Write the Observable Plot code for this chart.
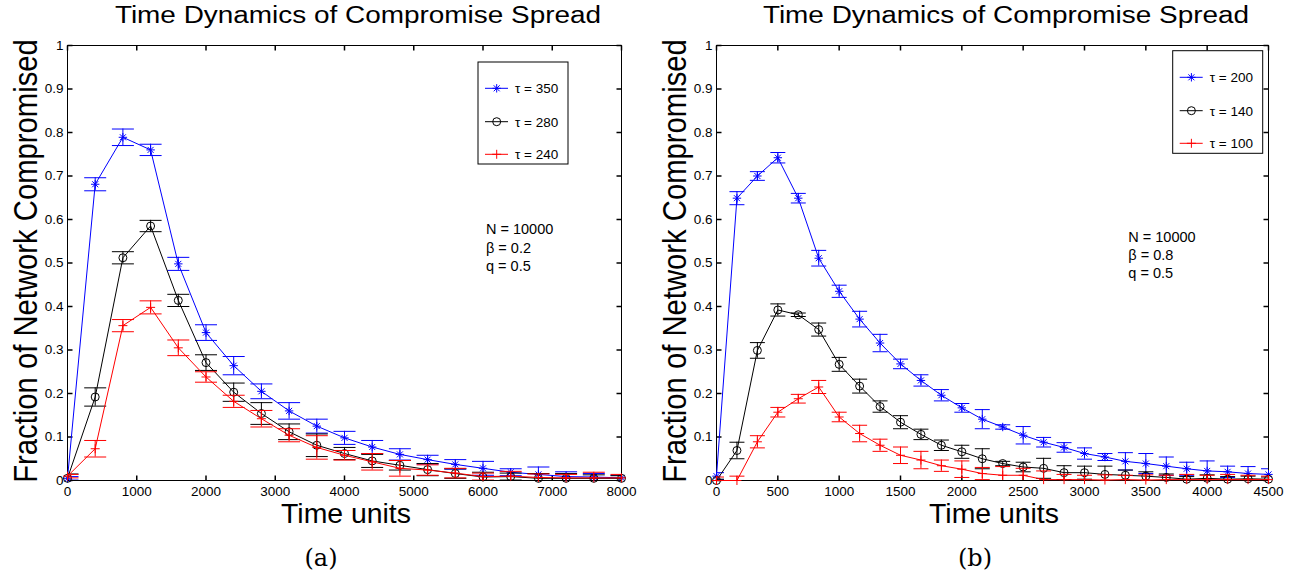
<!DOCTYPE html>
<html><head><meta charset="utf-8">
<script src="https://cdn.jsdelivr.net/npm/d3@7"></script>
<script src="https://cdn.jsdelivr.net/npm/@observablehq/plot@0.6"></script>
<style>
html,body{margin:0;padding:0;background:#fff;}
#wrap{display:flex;width:1298px;height:579px;overflow:hidden;background:#fff;}
#wrap svg{display:block;flex:none;}
</style></head><body><div id="wrap"></div>
<script>
// ---------- Panel (a) data ----------
const timeA = [0,400,800,1200,1600,2000,2400,2800,3200,3600,4000,4400,4800,5200,5600,6000,6400,6800,7200,7600,8000];
const tau350 = [0.005,0.681,0.789,0.760,0.498,0.340,0.264,0.205,0.160,0.125,0.098,0.077,0.060,0.048,0.037,0.028,0.019,0.014,0.009,0.008,0.006];
const tau350Err = [0.004,0.015,0.019,0.013,0.015,0.018,0.021,0.017,0.019,0.016,0.015,0.015,0.013,0.010,0.011,0.016,0.008,0.017,0.011,0.008,0.006];
const tau280 = [0.005,0.192,0.512,0.585,0.414,0.271,0.203,0.154,0.112,0.081,0.062,0.045,0.035,0.025,0.016,0.008,0.009,0.005,0.005,0.005,0.005];
const tau280Err = [0.010,0.021,0.014,0.013,0.014,0.018,0.021,0.025,0.018,0.026,0.014,0.015,0.011,0.014,0.011,0.011,0.008,0.011,0.011,0.008,0.006];
const tau240 = [0.010,0.073,0.356,0.398,0.305,0.238,0.182,0.142,0.104,0.076,0.058,0.043,0.028,0.024,0.017,0.009,0.010,0.007,0.006,0.006,0.006];
const tau240Err = [0.004,0.019,0.014,0.015,0.018,0.012,0.014,0.019,0.015,0.027,0.011,0.019,0.018,0.012,0.011,0.008,0.011,0.008,0.008,0.013,0.008];
const xTicksA = [0,1000,2000,3000,4000,5000,6000,7000,8000];
const xTickLabelsA = ["0","1000","2000","3000","4000","5000","6000","7000","8000"];
const legendA = ["\u03c4 = 350","\u03c4 = 280","\u03c4 = 240"];
const notesA = ["N = 10000","\u03b2 = 0.2","q = 0.5"];

// ---------- Panel (b) data ----------
const timeB = [0,166.7,333.3,500,666.7,833.3,1000,1166.7,1333.3,1500,1666.7,1833.3,2000,2166.7,2333.3,2500,2666.7,2833.3,3000,3166.7,3333.3,3500,3666.7,3833.3,4000,4166.7,4333.3,4500];
const tau200 = [0.010,0.649,0.700,0.742,0.649,0.511,0.435,0.371,0.316,0.268,0.230,0.196,0.167,0.141,0.123,0.104,0.088,0.076,0.062,0.054,0.044,0.039,0.033,0.027,0.022,0.020,0.016,0.014];
const tau200Err = [0.008,0.015,0.010,0.012,0.011,0.018,0.014,0.018,0.020,0.011,0.013,0.013,0.010,0.022,0.005,0.020,0.011,0.011,0.013,0.008,0.020,0.023,0.021,0.015,0.023,0.013,0.016,0.013];
const tau140 = [0.000,0.069,0.299,0.392,0.381,0.347,0.267,0.217,0.170,0.134,0.106,0.081,0.066,0.050,0.039,0.031,0.028,0.018,0.018,0.014,0.012,0.010,0.007,0.003,0.005,0.003,0.004,0.003];
const tau140Err = [0.003,0.019,0.018,0.014,0.004,0.015,0.016,0.016,0.013,0.015,0.012,0.012,0.015,0.023,0.005,0.011,0.023,0.016,0.015,0.019,0.012,0.010,0.008,0.006,0.008,0.006,0.006,0.005];
const tau100 = [0.000,0.000,0.089,0.157,0.188,0.215,0.146,0.108,0.081,0.058,0.047,0.034,0.026,0.016,0.012,0.012,0.002,0.002,0.002,0.001,0.002,0.001,0.002,0.002,0.002,0.002,0.002,0.002];
const tau100Err = [0.008,0.010,0.014,0.011,0.010,0.015,0.011,0.019,0.014,0.019,0.020,0.013,0.019,0.014,0.020,0.016,0.020,0.012,0.010,0.012,0.010,0.012,0.010,0.012,0.010,0.012,0.010,0.008];
const xTicksB = [0,500,1000,1500,2000,2500,3000,3500,4000,4500];
const xTickLabelsB = ["0","500","1000","1500","2000","2500","3000","3500","4000","4500"];
const legendB = ["\u03c4 = 200","\u03c4 = 140","\u03c4 = 100"];
const notesB = ["N = 10000","\u03b2 = 0.8","q = 0.5"];

// ---------- shared ----------
const yTicks = [0,0.1,0.2,0.3,0.4,0.5,0.6,0.7,0.8,0.9,1];
const yTickLabels = ["0","0.1","0.2","0.3","0.4","0.5","0.6","0.7","0.8","0.9","1"];
const titleText = "Time Dynamics of Compromise Spread";
const yLabelText = "Fraction of Network Compromised";
const xLabelText = "Time units";
const seriesColors = ["#0000ff","#000000","#ff0000"];

// marker symbols (MATLAB style)
const starSym = {draw(c){const h=4.2,d=3; c.moveTo(-h,0);c.lineTo(h,0);c.moveTo(0,-h);c.lineTo(0,h);c.moveTo(-d,-d);c.lineTo(d,d);c.moveTo(-d,d);c.lineTo(d,-d);}};
const circSym = {draw(c){c.moveTo(4,0);c.arc(0,0,4,0,2*Math.PI);c.closePath();}};
const plusSym = {draw(c){const h=4.5; c.moveTo(-h,0);c.lineTo(h,0);c.moveTo(0,-h);c.lineTo(0,h);}};
const symbols = [starSym, circSym, plusSym];
const capSym = w => ({draw(c){c.moveTo(-w,0);c.lineTo(w,0);}});
const tickUp = {draw(c){c.moveTo(0,0);c.lineTo(0,-5);}};
const tickDown = {draw(c){c.moveTo(0,0);c.lineTo(0,5);}};
const tickRight = {draw(c){c.moveTo(0,0);c.lineTo(5,0);}};
const tickLeft = {draw(c){c.moveTo(0,0);c.lineTo(-5,0);}};

const FONT = "'Liberation Sans', Arial, Helvetica, sans-serif";

function panel(cfg){
  const W = 649, H = 579, mL = 67, mT = 45, mB = 99, mR = cfg.mR;
  const plotW = W - mL - mR;
  const xLabMap = new Map(cfg.xTicks.map((t,i)=>[t, cfg.xTickLabels[i]]));
  const yLabMap = new Map(yTicks.map((t,i)=>[t, yTickLabels[i]]));
  const marks = [
    Plot.frame({stroke:"black", strokeWidth:1}),
    Plot.axisX(cfg.xTicks, {anchor:"bottom", tickSize:0, tickPadding:6, tickFormat:d=>xLabMap.get(d), fontSize:13.5, label:null, fill:"black"}),
    Plot.axisY(yTicks, {anchor:"left", tickSize:0, tickPadding:4, tickFormat:d=>yLabMap.get(d), fontSize:13.5, label:null, fill:"black"}),
    Plot.dot(cfg.xTicks, {x:d=>d, frameAnchor:"bottom", symbol:tickUp, stroke:"black", fill:"none"}),
    Plot.dot(cfg.xTicks, {x:d=>d, frameAnchor:"top", symbol:tickDown, stroke:"black", fill:"none"}),
    Plot.dot(yTicks, {y:d=>d, frameAnchor:"left", symbol:tickRight, stroke:"black", fill:"none"}),
    Plot.dot(yTicks, {y:d=>d, frameAnchor:"right", symbol:tickLeft, stroke:"black", fill:"none"})
  ];
  cfg.series.forEach((s, k) => {
    const data = s.values.map((v,j)=>({t: cfg.time[j], v, e: s.err[j]}));
    const col = seriesColors[k];
    marks.push(
      Plot.ruleX(data, {x:"t", y1:d=>d.v-d.e, y2:d=>d.v+d.e, stroke:col, strokeWidth:1, clip:true}),
      Plot.dot(data, {x:"t", y:d=>d.v+d.e, symbol:capSym(cfg.cap), stroke:col, fill:"none", strokeWidth:1, clip:true}),
      Plot.dot(data, {x:"t", y:d=>d.v-d.e, symbol:capSym(cfg.cap), stroke:col, fill:"none", strokeWidth:1, clip:true}),
      Plot.line(data, {x:"t", y:"v", stroke:col, strokeWidth:1}),
      Plot.dot(data, {x:"t", y:"v", symbol:symbols[k], stroke:col, fill:"none", strokeWidth:1})
    );
  });
  const node = Plot.plot({
    width:W, height:H, marginLeft:mL, marginRight:mR, marginTop:mT, marginBottom:mB,
    x:{type:"linear", domain:cfg.xDomain},
    y:{type:"linear", domain:[0,1]},
    style:{fontFamily:FONT, background:"white", color:"black", overflow:"visible"},
    marks
  });
  const svg = d3.select(node);
  const g = svg.append("g").attr("font-family", FONT).attr("fill","black").attr("text-anchor","start");
  // title (slightly wide, as in the original rendering)
  g.append("text").attr("transform", `translate(${mL + plotW/2 + 14},23) scale(1.14,1)`).attr("text-anchor","middle")
    .attr("font-size", 24.5).text(titleText);
  // y label (slightly condensed along its length)
  g.append("text").attr("transform", `translate(36.5,${(mT + (H-mB))/2 - 1.5}) rotate(-90) scale(0.9,1)`).attr("text-anchor","middle")
    .attr("font-size", 32.5).text(yLabelText);
  // x label
  g.append("text").attr("x", mL + plotW/2 + 2).attr("y", 523).attr("text-anchor","middle")
    .attr("font-size", 28.4).text(xLabelText);
  // parameter notes
  cfg.notes.forEach((t,i)=>{
    g.append("text").attr("x", cfg.noteX).attr("y", cfg.noteY[i]).attr("text-anchor","start")
      .attr("font-size", 14.5).text(t);
  });
  // legend
  const L = cfg.legend;
  const lg = svg.append("g").attr("font-family", FONT).attr("text-anchor","start");
  lg.append("rect").attr("x", L.x).attr("y", L.y).attr("width", L.w).attr("height", L.h)
    .attr("fill","white").attr("stroke","black").attr("stroke-width",1);
  cfg.legendLabels.forEach((lab,i)=>{
    const yy = L.rows[i];
    lg.append("line").attr("x1", L.x + 7).attr("x2", L.x + 30).attr("y1", yy).attr("y2", yy)
      .attr("stroke", seriesColors[i]).attr("stroke-width",1);
    lg.append("path").attr("d", d3.symbol(symbols[i])()).attr("transform", `translate(${L.x + 18.7},${yy})`)
      .attr("fill","none").attr("stroke", seriesColors[i]).attr("stroke-width",1);
    lg.append("text").attr("x", L.x + 37).attr("y", yy + 5).attr("text-anchor","start")
      .attr("font-size", 13.5).attr("fill","black").text(lab);
  });
  // caption
  g.append("text").attr("x", cfg.capX).attr("y", 566).attr("text-anchor","middle")
    .attr("font-family","'DejaVu Serif', 'Liberation Serif', serif").attr("font-size", 24).text(cfg.caption);
  return node;
}

const wrap = document.getElementById("wrap");
wrap.appendChild(panel({
  time: timeA, xDomain:[0,8000], xTicks: xTicksA, xTickLabels: xTickLabelsA, mR: 28, cap: 11,
  series: [{values: tau350, err: tau350Err},{values: tau280, err: tau280Err},{values: tau240, err: tau240Err}],
  legendLabels: legendA, legend: {x:478, y:62, w:90, h:102, rows:[88.3,121.7,154.3]},
  notes: notesA, noteX: 486, noteY: [234, 252.5, 271],
  caption: "(a)", capX: 321
}));
wrap.appendChild(panel({
  time: timeB, xDomain:[0,4500], xTicks: xTicksB, xTickLabels: xTickLabelsB, mR: 30, cap: 7.5,
  series: [{values: tau200, err: tau200Err},{values: tau140, err: tau140Err},{values: tau100, err: tau100Err}],
  legendLabels: legendB, legend: {x:523.7, y:50.7, w:90, h:102.6, rows:[77.3,110.7,143.3]},
  notes: notesB, noteX: 479.3, noteY: [241.5, 259.5, 278],
  caption: "(b)", capX: 326
}));
</script>
</body></html>
